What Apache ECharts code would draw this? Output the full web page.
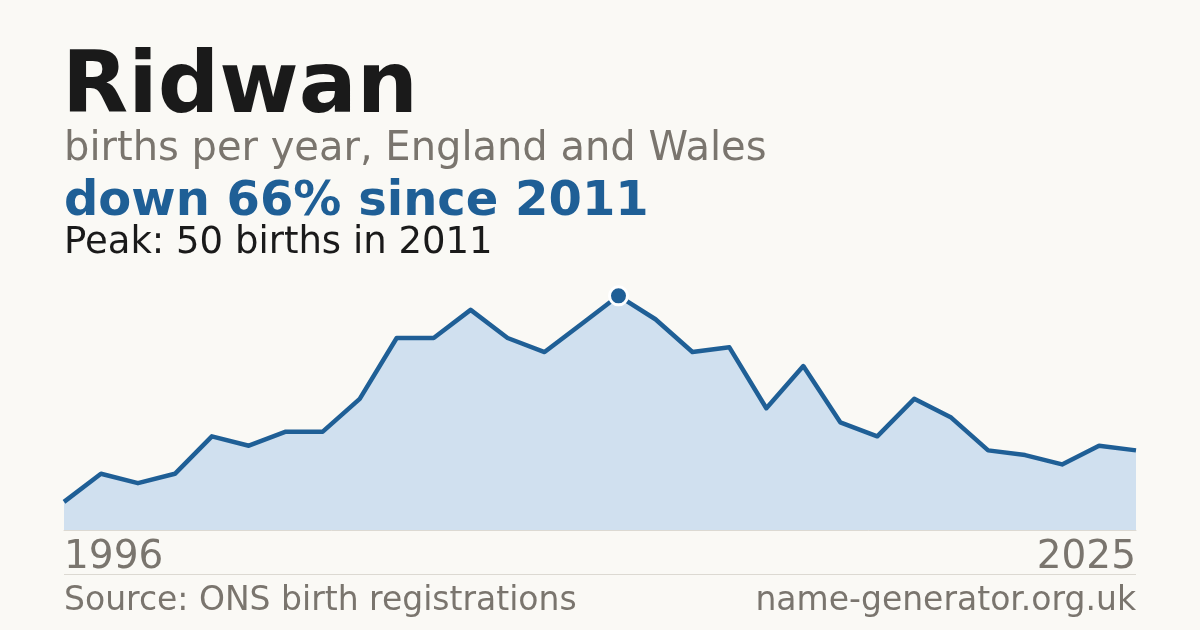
<!DOCTYPE html>
<html>
<head>
<meta charset="utf-8">
<title>Ridwan</title>
<script src="https://cdn.jsdelivr.net/npm/echarts@6/dist/echarts.min.js"></script>
<style>
  html, body { margin: 0; padding: 0; background: #faf9f5; }
  #main { width: 1200px; height: 630px; }
</style>
</head>
<body>
<div id="main"></div>
<script>
// births per year, 1996 - 2025
var years = [];
for (var y = 1996; y <= 2025; y++) years.push(String(y));
var births = [6, 12, 10, 12, 20, 18, 21, 21, 28, 41,
              41, 47, 41, 38, 44, 50, 45, 38, 39, 26,
              35, 23, 20, 28, 24, 17, 16, 14, 18, 17];

var FONT = "DejaVu Sans";
var grey = "#7a756e";
var blue = "#1f5f96";

var myChart = echarts.init(document.getElementById("main"));

function txt(x, y, text, size, color, weight, align) {
  return {
    type: "text",
    x: x,
    y: y,
    style: {
      text: text,
      fill: color,
      font: (weight || "normal") + " " + size + "px '" + FONT + "'",
      align: align || "left",
      verticalAlign: "top"
    }
  };
}

var option = {
  backgroundColor: "#faf9f5",
  animation: false,
  grid: { left: 64, right: 64, top: 249, bottom: 100 },
  xAxis: {
    type: "category",
    data: years,
    boundaryGap: false,
    axisLine: { lineStyle: { color: "#dcd9d2", width: 1 } },
    axisTick: { show: false },
    axisLabel: {
      // only first and last year
      interval: function (i) { return i === 0 || i === years.length - 1; },
      color: grey,
      fontFamily: FONT,
      fontSize: 39,
      margin: 8,
      alignMinLabel: "left",
      alignMaxLabel: "right"
    }
  },
  yAxis: {
    type: "value",
    min: 0,
    max: 60,
    show: false,
    splitLine: { show: false }
  },
  series: [
    {
      type: "line",
      data: births,
      symbol: "none",
      clip: false,
      lineStyle: { color: blue, width: 4.5, join: "round" },
      areaStyle: { color: "#d0e0ef", opacity: 1 },
      markPoint: {
        symbol: "circle",
        symbolSize: 18,
        label: { show: false },
        itemStyle: { color: blue, borderColor: "#ffffff", borderWidth: 3 },
        data: [{ type: "max" }]
      }
    }
  ],
  graphic: [
    txt(62, 47, "Ridwan", 86, "#1a1a1a", "bold"),
    txt(64, 130, "births per year, England and Wales", 40, grey),
    txt(64, 179, "down 66% since 2011", 48, blue, "bold"),
    txt(64, 225, "Peak: 50 births in 2011", 37, "#1a1a1a"),
    {
      type: "line",
      shape: { x1: 64, y1: 574.5, x2: 1136, y2: 574.5 },
      style: { stroke: "#dcd9d2", lineWidth: 1 }
    },
    txt(64, 585, "Source: ONS birth registrations", 33, grey),
    txt(1136, 585, "name-generator.org.uk", 33, grey, "normal", "right")
  ]
};

myChart.setOption(option);
</script>
</body>
</html>
